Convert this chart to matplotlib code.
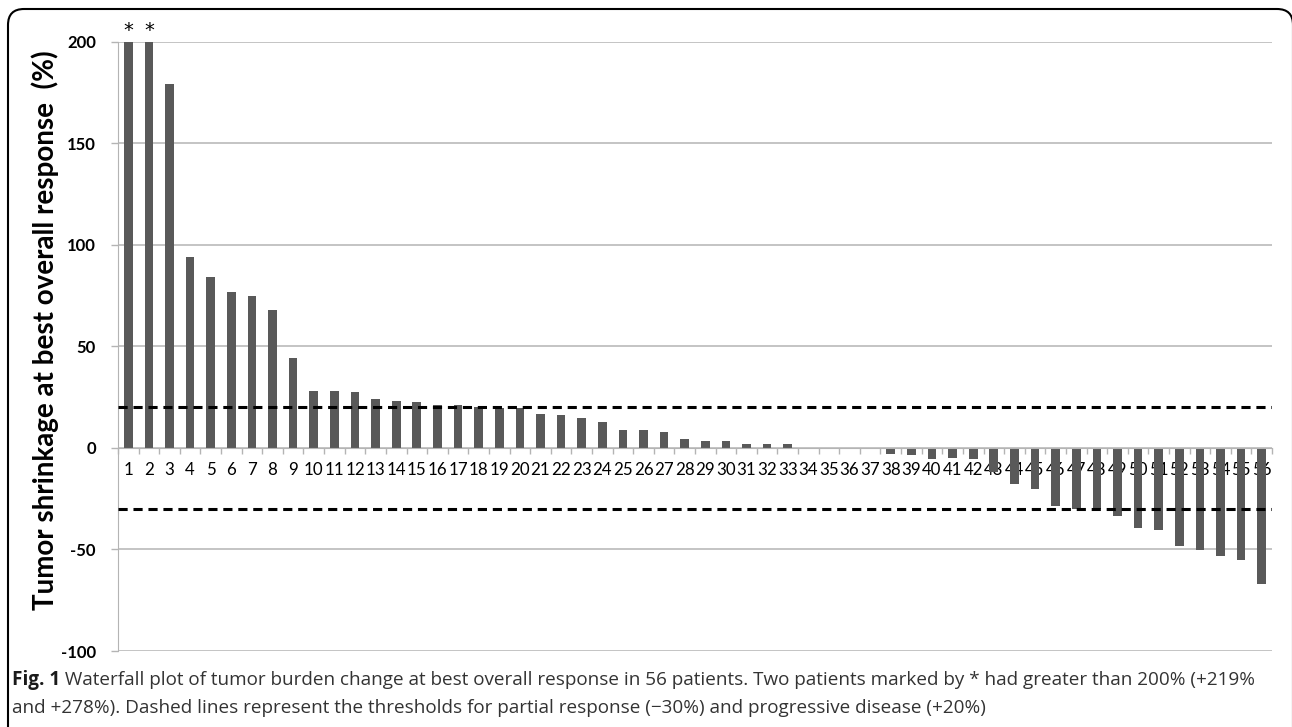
import numpy as np
import matplotlib
matplotlib.use("Agg")
import matplotlib.pyplot as plt
from matplotlib.path import Path
from matplotlib.patches import PathPatch
from matplotlib.transforms import IdentityTransform

# best overall response per patient, sorted high to low (%)
patients = list(range(1, 57))
change = [278, 219, 179, 94, 84, 77, 75, 68, 44.5, 28,
          28, 27.6, 24, 23.3, 22.5, 21, 21, 20, 19.8, 19.4,
          16.5, 16, 14.7, 12.7, 8.7, 8.7, 8, 4.4, 3.3, 3.3,
          2.1, 2.1, 1.7, 0, 0, 0, 0, -2.8, -3.6, -5.3,
          -5.2, -5.6, -12, -17.6, -20, -28.7, -29.9, -29.9, -33.5, -39.5,
          -40.3, -48.4, -50.2, -53, -55.2, -66.8]
starred = [1, 2]          # patients above the 200% axis limit
thresholds = [20, -30]    # progressive disease / partial response
yticks = [-100, -50, 0, 50, 100, 150, 200]

caption_head = "Fig. 1"
caption_line1 = (" Waterfall plot of tumor burden change at best overall response in 56 patients. "
                 "Two patients marked by * had greater than 200% (+219%")
caption_line2 = ("and +278%). Dashed lines represent the thresholds for partial response (\u221230%) "
                 "and progressive disease (+20%)")

plt.rcParams['font.family'] = ['Lato', 'DejaVu Sans']

W, H = 1292, 727
fig = plt.figure(figsize=(W / 100, H / 100), dpi=100)
ax = fig.add_axes([118 / W, 1 - 651 / H, (1272 - 118) / W, (651 - 41.7) / H])

x = np.arange(len(patients))
ax.bar(x, change, width=0.42, color='#595959', zorder=2)
ax.set_xlim(-0.5, len(patients) - 0.5)
ax.set_ylim(-100, 200)

for t in thresholds:
    ax.axhline(t, color='black', lw=2.2, ls=(0, (3.0, 1.9)), zorder=3)

ax.set_yticks(yticks)
ax.set_yticklabels([str(v) for v in yticks], fontsize=12, fontweight='bold')
ax.yaxis.grid(True, color='#b4b4b4', lw=1.1, zorder=0)
ax.set_axisbelow(True)
ax.tick_params(axis='y', length=5, width=1, color='#b4b4b4', pad=11)

ax.spines['bottom'].set_position(('data', 0))
ax.spines['bottom'].set_color('#b4b4b4')
ax.spines['left'].set_color('#b4b4b4')
ax.spines['top'].set_visible(False)
ax.spines['right'].set_visible(False)

ax.set_xticks(x)
ax.set_xticklabels([str(p) for p in patients], fontsize=12.2)
ax.tick_params(axis='x', length=0, pad=10)
ax.set_xticks(np.arange(-0.5, len(patients)), minor=True)
ax.tick_params(axis='x', which='minor', length=4, width=1, color='#b4b4b4', direction='out')

for p in starred:
    ax.text(p - 1, 201, '*', ha='center', va='bottom', fontsize=14,
            family='DejaVu Sans', clip_on=False)

ax.set_ylabel('Tumor shrinkage at best overall response  (%)', fontsize=20,
              fontweight='bold')
ax.yaxis.set_label_coords(-0.051, 0.527)

# rounded frame in pixel units, open at the bottom, right side at the edge
r = 16
top = H - 9
left, right = 8, 1293
verts = [(left, -10), (left, top - r), (left, top), (left + r, top),
         (right - r, top), (right, top), (right, top - r), (right, -10)]
codes = [Path.MOVETO, Path.LINETO, Path.CURVE3, Path.CURVE3,
         Path.LINETO, Path.CURVE3, Path.CURVE3, Path.LINETO]
frame = PathPatch(Path(verts, codes), transform=IdentityTransform(),
                  fill=False, ec='black', lw=1.5)
fig.patches.append(frame)

cap_font = ['Open Sans', 'DejaVu Sans']
t1 = fig.text(12 / W, 1 - 680 / H, caption_head, fontsize=13.6, fontweight='bold',
              va='center', color='#1a1a1a', family=cap_font)
fig.canvas.draw()
bb = t1.get_window_extent()
fig.text(bb.x1 / W, 1 - 680 / H, caption_line1, fontsize=13.6, va='center',
         color='#333333', family=cap_font)
fig.text(12 / W, 1 - 708 / H, caption_line2, fontsize=13.6, va='center',
         color='#333333', family=cap_font)

fig.savefig('out.png', dpi=100)
